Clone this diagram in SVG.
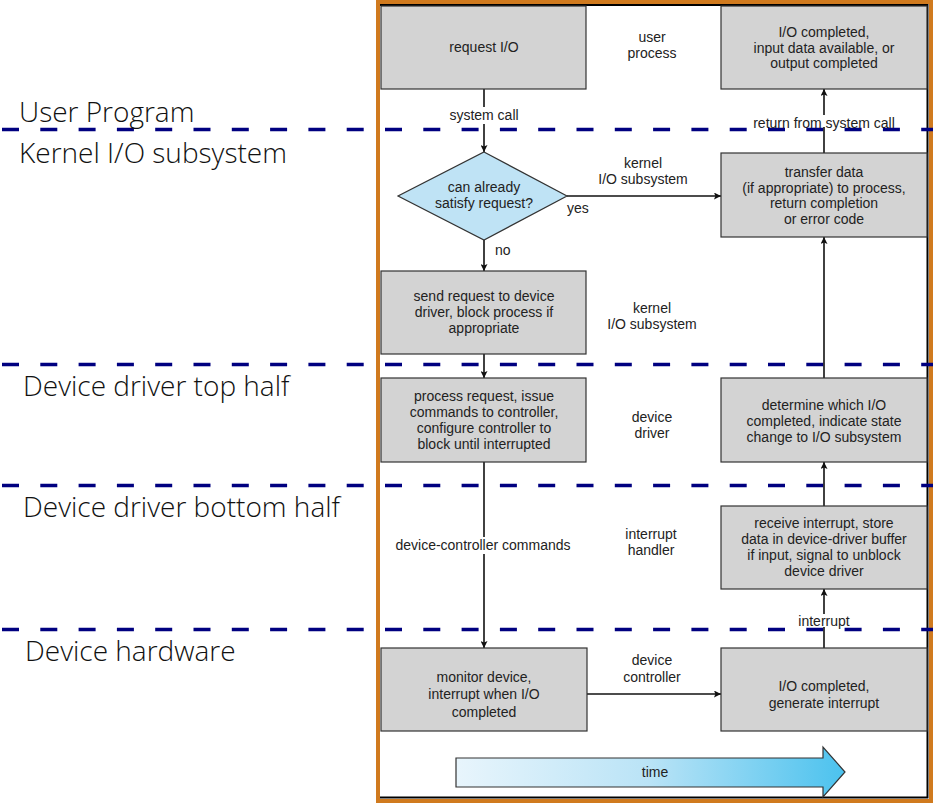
<svg xmlns="http://www.w3.org/2000/svg" width="933" height="804" viewBox="0 0 933 804">
<defs>
<marker id="ah" viewBox="0 0 10 10" refX="10" refY="5" markerWidth="9" markerHeight="7" markerUnits="userSpaceOnUse" orient="auto">
<path d="M0,0 L10,5 L0,10 L2,5 z" fill="#111"/>
</marker>
<linearGradient id="tg" x1="0" y1="0" x2="1" y2="0">
<stop offset="0" stop-color="#e8f5fc"/>
<stop offset="0.5" stop-color="#b9e3f6"/>
<stop offset="1" stop-color="#4bc2ee"/>
</linearGradient>
<style>
.box{fill:#d3d3d3;stroke:#333;stroke-width:1.2}
.t{font-family:"Liberation Sans",Arial,sans-serif;font-size:14px;fill:#222;text-anchor:middle}
.tl{font-family:"Liberation Sans",Arial,sans-serif;font-size:14px;fill:#222}
.lane{font-family:"Open Sans","DejaVu Sans",sans-serif;font-size:28px;fill:#111;font-weight:300}
.dash{stroke:#000080;stroke-width:3.5;stroke-dasharray:17 21.3;fill:none}
.c{stroke:#111;stroke-width:1.6;fill:none;marker-end:url(#ah)}
.bg{fill:#fff}
</style>
</defs>
<rect width="933" height="804" fill="#fff"/>
<g id="frame">
<rect x="378" y="2" width="553" height="799" fill="none" stroke="#d07a1e" stroke-width="4"/>
<path d="M380,5 H927.5 V797.5 H380" fill="none" stroke="#000" stroke-width="2"/>
</g>
<g id="lanes">
<line class="dash" x1="2" y1="129.5" x2="933" y2="129.5"/>
<line class="dash" x1="2" y1="364.5" x2="933" y2="364.5"/>
<line class="dash" x1="2" y1="485.5" x2="933" y2="485.5"/>
<line class="dash" x1="2" y1="629.5" x2="933" y2="629.5"/>
<text class="lane" x="19" y="122">User Program</text>
<text class="lane" x="19" y="163">Kernel I/O subsystem</text>
<text class="lane" x="23" y="396">Device driver top half</text>
<text class="lane" x="23" y="517">Device driver bottom half</text>
<text class="lane" x="25" y="661">Device hardware</text>
</g>
<g id="connectors">
<line class="c" x1="484" y1="89" x2="484" y2="152"/>
<line class="c" x1="567" y1="196" x2="721" y2="196"/>
<line class="c" x1="484" y1="240" x2="484" y2="271"/>
<line class="c" x1="484" y1="354" x2="484" y2="378"/>
<line class="c" x1="484" y1="462" x2="484" y2="648"/>
<line class="c" x1="587" y1="694" x2="721" y2="694"/>
<line class="c" x1="824" y1="648" x2="824" y2="589"/>
<line class="c" x1="824" y1="506" x2="824" y2="462"/>
<line class="c" x1="824" y1="378" x2="824" y2="237"/>
<line class="c" x1="824" y1="153" x2="824" y2="89"/>
</g>
<g id="labels">
<rect class="bg" x="444" y="107" width="80" height="17"/>
<text class="t" x="484" y="120">system call</text>
<rect class="bg" x="744" y="115" width="160" height="12"/>
<text class="t" x="824" y="128">return from system call</text>
<rect class="bg" x="390" y="537" width="187" height="17"/>
<text class="t" x="483" y="550">device-controller commands</text>
<rect class="bg" x="794" y="614" width="60" height="13"/>
<text class="t" x="824" y="626">interrupt</text>
<text class="t" x="652" y="42">user</text>
<text class="t" x="652" y="58">process</text>
<text class="t" x="643" y="168">kernel</text>
<text class="t" x="643" y="184">I/O subsystem</text>
<text class="tl" x="567" y="213">yes</text>
<text class="tl" x="495" y="255">no</text>
<text class="t" x="652" y="313">kernel</text>
<text class="t" x="652" y="329">I/O subsystem</text>
<text class="t" x="652" y="422">device</text>
<text class="t" x="652" y="438">driver</text>
<text class="t" x="651" y="539">interrupt</text>
<text class="t" x="651" y="555">handler</text>
<text class="t" x="652" y="665">device</text>
<text class="t" x="652" y="682">controller</text>
</g>
<g id="n-request">
<rect class="box" x="381" y="6" width="205" height="83"/>
<text class="t" x="484" y="52">request I/O</text>
</g>
<g id="n-iocompleted">
<rect class="box" x="721" y="6" width="206" height="83"/>
<text class="t" x="824" y="37">I/O completed,</text>
<text class="t" x="824" y="53">input data available, or</text>
<text class="t" x="824" y="68">output completed</text>
</g>
<g id="n-decision">
<polygon points="484,152 567,196 484,240 398,196" fill="#bfe3f5" stroke="#333" stroke-width="1.2"/>
<text class="t" x="484" y="192">can already</text>
<text class="t" x="484" y="208">satisfy request?</text>
</g>
<g id="n-transfer">
<rect class="box" x="721" y="153" width="206" height="84"/>
<text class="t" x="824" y="177">transfer data</text>
<text class="t" x="824" y="193">(if appropriate) to process,</text>
<text class="t" x="824" y="208">return completion</text>
<text class="t" x="824" y="224">or error code</text>
</g>
<g id="n-send">
<rect class="box" x="381" y="271" width="205" height="83"/>
<text class="t" x="484" y="301">send request to device</text>
<text class="t" x="484" y="317">driver, block process if</text>
<text class="t" x="484" y="333">appropriate</text>
</g>
<g id="n-process">
<rect class="box" x="381" y="378" width="205" height="84"/>
<text class="t" x="484" y="401">process request, issue</text>
<text class="t" x="484" y="417">commands to controller,</text>
<text class="t" x="484" y="433">configure controller to</text>
<text class="t" x="484" y="449">block until interrupted</text>
</g>
<g id="n-determine">
<rect class="box" x="721" y="378" width="206" height="84"/>
<text class="t" x="824" y="410">determine which I/O</text>
<text class="t" x="824" y="426">completed, indicate state</text>
<text class="t" x="824" y="442">change to I/O subsystem</text>
</g>
<g id="n-receive">
<rect class="box" x="721" y="506" width="206" height="83"/>
<text class="t" x="824" y="528">receive interrupt, store</text>
<text class="t" x="824" y="544">data in device-driver buffer</text>
<text class="t" x="824" y="560">if input, signal to unblock</text>
<text class="t" x="824" y="576">device driver</text>
</g>
<g id="n-monitor">
<rect class="box" x="381" y="648" width="206" height="83"/>
<text class="t" x="484" y="682">monitor device,</text>
<text class="t" x="484" y="699">interrupt when I/O</text>
<text class="t" x="484" y="717">completed</text>
</g>
<g id="n-generate">
<rect class="box" x="721" y="648" width="206" height="83"/>
<text class="t" x="824" y="691">I/O completed,</text>
<text class="t" x="824" y="708">generate interrupt</text>
</g>
<g id="time">
<polygon points="456,758 823,758 823,747 845,772 823,797 823,787 456,787" fill="url(#tg)" stroke="#333" stroke-width="1.2"/>
<text class="t" x="655" y="777">time</text>
</g>
</svg>
